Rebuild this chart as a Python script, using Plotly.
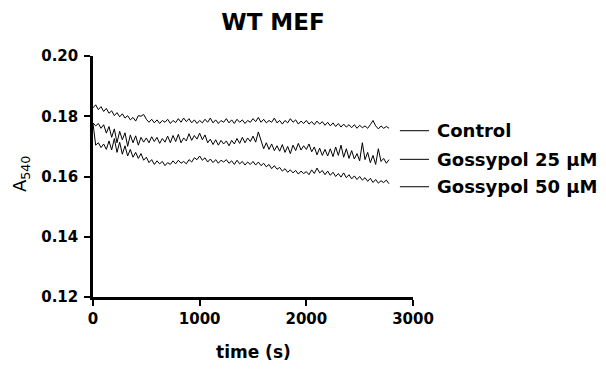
import plotly.graph_objects as go

time_s = list(range(0, 2800, 25))

control = [
    0.1828, 0.1838, 0.1822, 0.1832, 0.1816, 0.1826, 0.1810, 0.1818, 0.1802, 0.1812,
    0.1798, 0.1808, 0.1794, 0.1802, 0.1788, 0.1796, 0.1784, 0.1802, 0.1800, 0.1806,
    0.1790, 0.1780, 0.1790, 0.1778, 0.1788, 0.1776, 0.1786, 0.1780, 0.1790, 0.1776,
    0.1786, 0.1779, 0.1792, 0.1780, 0.1794, 0.1782, 0.1792, 0.1778, 0.1788, 0.1776,
    0.1786, 0.1778, 0.1790, 0.1780, 0.1794, 0.1778, 0.1788, 0.1776, 0.1786, 0.1780,
    0.1792, 0.1778, 0.1788, 0.1776, 0.1790, 0.1780, 0.1788, 0.1776, 0.1786, 0.1780,
    0.1792, 0.1782, 0.1796, 0.1780, 0.1790, 0.1778, 0.1786, 0.1780, 0.1794, 0.1778,
    0.1786, 0.1774, 0.1786, 0.1778, 0.1792, 0.1780, 0.1788, 0.1774, 0.1784, 0.1776,
    0.1786, 0.1774, 0.1782, 0.1772, 0.1784, 0.1774, 0.1782, 0.1770, 0.1780, 0.1768,
    0.1778, 0.1766, 0.1776, 0.1764, 0.1774, 0.1764, 0.1772, 0.1762, 0.1772, 0.1760,
    0.1770, 0.1762, 0.1768, 0.1760, 0.1772, 0.1786, 0.1768, 0.1758, 0.1768, 0.1760,
    0.1766, 0.1760,
]

gossypol_25 = [
    0.1778, 0.1768, 0.1776, 0.1760, 0.1772, 0.1744, 0.1766, 0.1730, 0.1758, 0.1712,
    0.1750, 0.1722, 0.1745, 0.1700, 0.1738, 0.1712, 0.1735, 0.1704, 0.1730, 0.1714,
    0.1728, 0.1712, 0.1732, 0.1716, 0.1730, 0.1710, 0.1726, 0.1714, 0.1734, 0.1712,
    0.1736, 0.1716, 0.1740, 0.1712, 0.1728, 0.1718, 0.1742, 0.1720, 0.1736, 0.1724,
    0.1744, 0.1722, 0.1738, 0.1712, 0.1724, 0.1706, 0.1722, 0.1704, 0.1720, 0.1708,
    0.1718, 0.1702, 0.1720, 0.1708, 0.1726, 0.1710, 0.1730, 0.1712, 0.1728, 0.1716,
    0.1734, 0.1714, 0.1748, 0.1720, 0.1692, 0.1712, 0.1690, 0.1708, 0.1686, 0.1702,
    0.1684, 0.1706, 0.1680, 0.1700, 0.1676, 0.1704, 0.1686, 0.1710, 0.1688, 0.1702,
    0.1690, 0.1708, 0.1682, 0.1698, 0.1672, 0.1694, 0.1670, 0.1690, 0.1668, 0.1692,
    0.1666, 0.1698, 0.1670, 0.1704, 0.1664, 0.1692, 0.1660, 0.1686, 0.1658, 0.1676,
    0.1652, 0.1712, 0.1656, 0.1680, 0.1646, 0.1670, 0.1640, 0.1692, 0.1650, 0.1660,
    0.1644, 0.1656,
]

gossypol_50 = [
    0.1776, 0.1704, 0.1712, 0.1696, 0.1708, 0.1690, 0.1718, 0.1688, 0.1726, 0.1680,
    0.1714, 0.1674, 0.1702, 0.1668, 0.1690, 0.1664, 0.1680, 0.1660, 0.1676, 0.1654,
    0.1664, 0.1646, 0.1656, 0.1640, 0.1652, 0.1642, 0.1650, 0.1636, 0.1646, 0.1640,
    0.1652, 0.1642, 0.1654, 0.1644, 0.1650, 0.1642, 0.1656, 0.1648, 0.1662, 0.1656,
    0.1668, 0.1654, 0.1662, 0.1648, 0.1658, 0.1646, 0.1656, 0.1644, 0.1654, 0.1648,
    0.1656, 0.1644, 0.1652, 0.1640, 0.1654, 0.1642, 0.1650, 0.1638, 0.1648, 0.1640,
    0.1650, 0.1638, 0.1648, 0.1636, 0.1644, 0.1632, 0.1640, 0.1626, 0.1636, 0.1624,
    0.1630, 0.1618, 0.1626, 0.1614, 0.1622, 0.1612, 0.1620, 0.1608, 0.1618, 0.1610,
    0.1616, 0.1606, 0.1622, 0.1610, 0.1628, 0.1612, 0.1620, 0.1606, 0.1618, 0.1604,
    0.1614, 0.1600, 0.1610, 0.1598, 0.1612, 0.1596, 0.1606, 0.1592, 0.1602, 0.1590,
    0.1600, 0.1588, 0.1596, 0.1584, 0.1594, 0.1580, 0.1590, 0.1578, 0.1586, 0.1580,
    0.1588, 0.1576,
]

series_names = ["Control", "Gossypol 25 \u03bcM", "Gossypol 50 \u03bcM"]
label_y = [0.1752, 0.1657, 0.1566]

y_ticks = [0.12, 0.14, 0.16, 0.18, 0.20]
y_tick_text = ["0.12", "0.14", "0.16", "0.18", "0.20"]
x_ticks = [0, 1000, 2000, 3000]
x_tick_text = ["0", "1000", "2000", "3000"]

Y_MIN, Y_MAX = 0.12, 0.20
X_MIN, X_MAX = 0, 3000

FONT = "DejaVu Sans"
OFF = 8  # default page body margin

fig = go.Figure()
for name, vals in zip(series_names, [control, gossypol_25, gossypol_50]):
    fig.add_trace(go.Scatter(x=time_s[:len(vals)], y=vals, mode="lines", name=name,
                             line=dict(color="black", width=1), showlegend=False))

def paper_y(v):
    return (v - Y_MIN) / (Y_MAX - Y_MIN)

for name, ly in zip(series_names, label_y):
    fig.add_shape(type="line", xref="paper", yref="paper",
                  x0=0.959, x1=1.050, y0=paper_y(ly), y1=paper_y(ly),
                  line=dict(color="black", width=1))
    fig.add_annotation(xref="paper", yref="paper", x=1.068, y=paper_y(ly),
                       text=name, showarrow=False, xanchor="left", yanchor="middle",
                       font=dict(family=FONT, size=18, color="black", weight="bold"))

axis_common = dict(showline=True, linecolor="black", linewidth=2.5, ticks="outside",
                   ticklen=6, tickwidth=2, tickcolor="black", showgrid=False, zeroline=False,
                   tickfont=dict(family=FONT, size=15, color="black", weight="bold"))

fig.update_xaxes(range=[X_MIN, X_MAX], tickvals=x_ticks, ticktext=x_tick_text, **axis_common)
fig.update_yaxes(range=[Y_MIN, Y_MAX], tickvals=y_ticks, ticktext=y_tick_text,
                 ticklabelstandoff=3, **axis_common)

fig.add_annotation(xref="paper", yref="paper", x=0.5, y=-0.228, text="time (s)",
                   showarrow=False, xanchor="center", yanchor="middle",
                   font=dict(family=FONT, size=17, color="black", weight="bold"))
fig.add_annotation(xref="paper", yref="paper", x=-0.225, y=0.51, text="A<sub>540</sub>",
                   showarrow=False, xanchor="center", yanchor="middle", textangle=-90,
                   font=dict(family=FONT, size=18, color="black"))

fig.update_layout(
    width=606, height=375,
    margin=dict(l=93 - OFF, r=193 + OFF, t=56 - OFF, b=78 + OFF),
    paper_bgcolor="white", plot_bgcolor="white",
    title=dict(text="WT MEF", x=(273 - OFF) / 606, xref="container", xanchor="center",
               y=1 - (21.7 - OFF) / 375, yref="container", yanchor="middle",
               font=dict(family=FONT, size=23, color="black", weight="bold")),
)

fig.write_html("out.html")
